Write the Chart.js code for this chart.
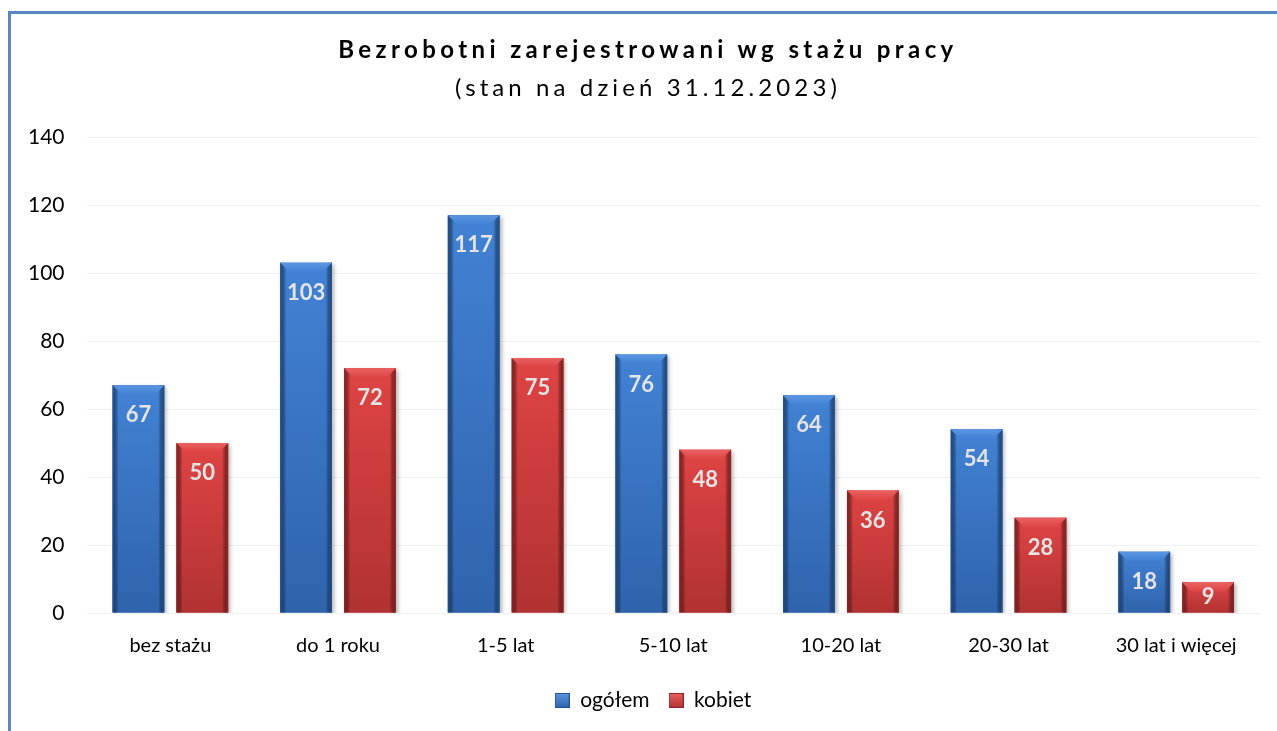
<!DOCTYPE html>
<html lang="pl">
<head>
<meta charset="utf-8">
<title>Bezrobotni zarejestrowani wg stażu pracy</title>
<script src="https://cdn.jsdelivr.net/npm/chart.js@4.4.1/dist/chart.umd.min.js"></script>
<style>
    html, body { margin: 0; padding: 0; background: #fff; overflow: hidden; }
    #wrap { position: relative; width: 1277px; height: 731px; }
    #frame {
        position: absolute; left: 8px; top: 11px; width: 1400px; height: 900px;
        border-top: 3px solid #5a86c2; border-left: 3px solid #5a86c2;
    }
    #title {
        position: absolute; left: 0; top: 30px; width: 1296px; text-align: center;
        font-family: Lato, "Open Sans", sans-serif; color: #000;
    }
    #title .main { font-size: 24px; font-weight: bold; letter-spacing: 4.4px; line-height: 38px; }
    #title .sub { font-size: 24px; letter-spacing: 4.1px; line-height: 38px; }
    #chart { position: absolute; left: 0; top: 0; }
</style>
</head>
<body>
<div id="wrap">
    <div id="frame"></div>
    <canvas id="chart" width="1277" height="731"></canvas>
    <div id="title">
        <div class="main">Bezrobotni zarejestrowani wg stażu pracy</div>
        <div class="sub">(stan na dzień 31.12.2023)</div>
    </div>
</div>
<script>
// --- data ---
var categories = ['bez stażu', 'do 1 roku', '1-5 lat', '5-10 lat', '10-20 lat', '20-30 lat', '30 lat i więcej'];
var ogolem = [67, 103, 117, 76, 64, 54, 18];
var kobiet = [50, 72, 75, 48, 36, 28, 9];
var yTicks = [0, 20, 40, 60, 80, 100, 120, 140];

var FONT = 'Lato, "Open Sans", sans-serif';

// colours for the bevelled bars: [top, bottom, edge, bevel]
var palette = {
    blue: ['#4282d4', '#2f63ac', '#26528f', '#5b96e2'],
    red:  ['#df4444', '#b13232', '#8e2626', '#ea6262']
};

function shadeBar(ctx, bar, pal) {
    var p = bar.getProps(['x', 'y', 'base', 'width'], true);
    var l = p.x - p.width / 2, r = p.x + p.width / 2;
    var t = p.y, b = p.base;
    var bev = Math.min(9, (b - t) / 3);

    var g = ctx.createLinearGradient(0, t, 0, b);
    g.addColorStop(0, pal[0]);
    g.addColorStop(1, pal[1]);
    ctx.fillStyle = g;
    ctx.fillRect(l, t, r - l, b - t);

    // side edges
    var gl = ctx.createLinearGradient(l, 0, l + 6, 0);
    gl.addColorStop(0, pal[2]);
    gl.addColorStop(1, 'rgba(0,0,0,0)');
    ctx.fillStyle = gl;
    ctx.fillRect(l, t, 6, b - t);
    var gr = ctx.createLinearGradient(r - 6, 0, r, 0);
    gr.addColorStop(0, 'rgba(0,0,0,0)');
    gr.addColorStop(1, pal[2]);
    ctx.fillStyle = gr;
    ctx.fillRect(r - 6, t, 6, b - t);

    // top bevel
    var gt = ctx.createLinearGradient(0, t, 0, t + bev);
    gt.addColorStop(0, pal[3]);
    gt.addColorStop(1, pal[0]);
    ctx.beginPath();
    ctx.moveTo(l, t);
    ctx.lineTo(r, t);
    ctx.lineTo(r - bev, t + bev);
    ctx.lineTo(l + bev, t + bev);
    ctx.closePath();
    ctx.fillStyle = gt;
    ctx.fill();
}

var bevelBars = {
    id: 'bevelBars',
    afterLayout: function(chart) {
        // legend sits a bit right of the canvas centre
        if (chart.legend) {
            chart.legend.left += 20;
            chart.legend.right += 20;
        }
    },
    beforeDatasetsDraw: function(chart) {
        var ctx = chart.ctx;
        ctx.save();
        ctx.shadowColor = 'rgba(0,0,0,0.3)';
        ctx.shadowBlur = 4;
        ctx.shadowOffsetX = 2;
        ctx.shadowOffsetY = 2;
    },
    afterDatasetsDraw: function(chart) {
        var ctx = chart.ctx;
        ctx.restore();
        var pals = [palette.blue, palette.red];
        chart.data.datasets.forEach(function(ds, i) {
            var meta = chart.getDatasetMeta(i);
            if (meta.hidden) return;
            meta.data.forEach(function(bar, j) {
                ctx.save();
                shadeBar(ctx, bar, pals[i]);
                // value label inside the top of the bar, kept inside short bars
                var p = bar.getProps(['x', 'y', 'base'], true);
                var ly = Math.min(p.y + 30, p.base - 16);
                ctx.font = 'bold 22px ' + FONT;
                ctx.fillStyle = '#e4e4e4';
                ctx.textAlign = 'center';
                ctx.textBaseline = 'middle';
                ctx.fillText(ds.data[j], p.x, ly);
                ctx.restore();
            });
        });
    }
};

// gradient squares for the legend
function legendSwatch(pal) {
    var c = document.createElement('canvas');
    c.width = 15; c.height = 15;
    var x = c.getContext('2d');
    var g = x.createLinearGradient(0, 0, 0, 15);
    g.addColorStop(0, pal[3]);
    g.addColorStop(1, pal[1]);
    x.fillStyle = g;
    x.fillRect(0, 0, 15, 15);
    x.strokeStyle = pal[2];
    x.strokeRect(0.5, 0.5, 14, 14);
    return c;
}

new Chart(document.getElementById('chart'), {
    type: 'bar',
    data: {
        labels: categories,
        datasets: [{
            label: 'ogółem',
            data: ogolem,
            backgroundColor: palette.blue[0],
            categoryPercentage: 0.762,
            barPercentage: 0.81
        }, {
            label: 'kobiet',
            data: kobiet,
            backgroundColor: palette.red[0],
            categoryPercentage: 0.762,
            barPercentage: 0.81
        }]
    },
    options: {
        responsive: false,
        animation: false,
        layout: { padding: { top: 137, right: 17, left: 6, bottom: 10 } },
        plugins: {
            title: { display: false },
            tooltip: { enabled: false },
            legend: {
                position: 'bottom',
                labels: {
                    usePointStyle: true,
                    generateLabels: function(chart) {
                        return chart.data.datasets.map(function(ds, i) {
                            return {
                                text: ds.label,
                                pointStyle: legendSwatch(i === 0 ? palette.blue : palette.red),
                                fillStyle: ds.backgroundColor,
                                lineWidth: 0,
                                datasetIndex: i
                            };
                        });
                    },
                    color: '#000',
                    padding: 19,
                    boxWidth: 15,
                    boxHeight: 15,
                    font: { size: 21, family: FONT }
                }
            }
        },
        scales: {
            x: {
                grid: { display: false },
                border: { display: false },
                ticks: {
                    color: '#000',
                    padding: 13,
                    font: { size: 20, family: FONT }
                }
            },
            y: {
                min: yTicks[0],
                max: yTicks[yTicks.length - 1],
                afterBuildTicks: function(axis) {
                    axis.ticks = yTicks.map(function(v) { return { value: v }; });
                },
                grid: { color: '#f0f0f0', drawTicks: false },
                border: { display: false },
                ticks: {
                    color: '#000',
                    padding: 22,
                    font: { size: 21, family: FONT }
                }
            }
        }
    },
    plugins: [bevelBars]
});
</script>
</body>
</html>
